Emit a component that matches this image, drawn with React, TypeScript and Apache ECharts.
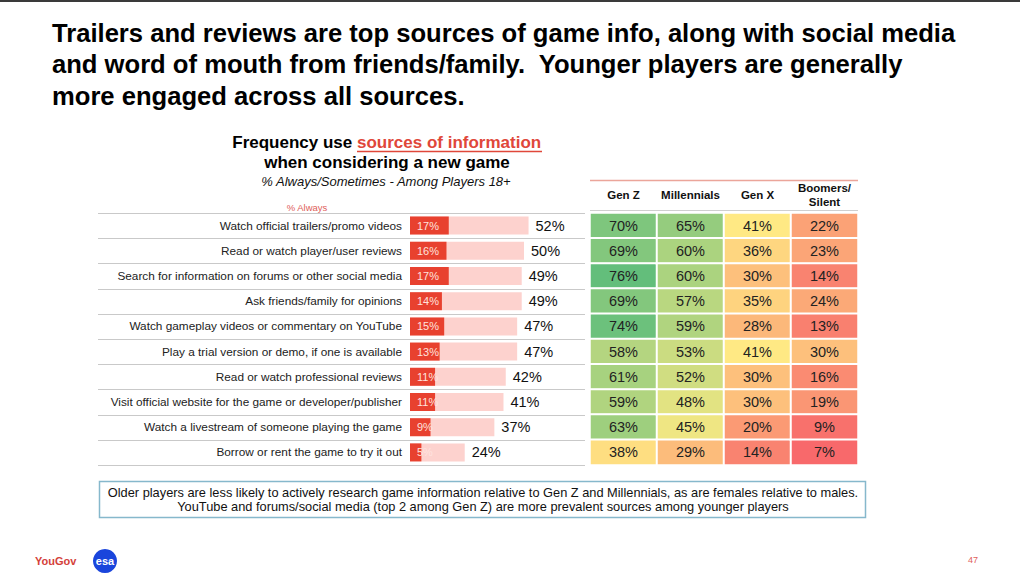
import React, { useEffect, useRef } from "react";
import * as echarts from "echarts";

const categories = [
  "Watch official trailers/promo videos",
  "Read or watch player/user reviews",
  "Search for information on forums or other social media",
  "Ask friends/family for opinions",
  "Watch gameplay videos or commentary on YouTube",
  "Play a trial version or demo, if one is available",
  "Read or watch professional reviews",
  "Visit official website for the game or developer/publisher",
  "Watch a livestream of someone playing the game",
  "Borrow or rent the game to try it out",
];
const totalPct = [52, 50, 49, 49, 47, 47, 42, 41, 37, 24];
const alwaysPct = [17, 16, 17, 14, 15, 13, 11, 11, 9, 5];
const generations = ["Gen Z", "Millennials", "Gen X", "Boomers/\nSilent"];
const genZ = [70, 69, 76, 69, 74, 58, 61, 59, 63, 38];
const millennials = [65, 60, 60, 57, 59, 53, 52, 48, 45, 29];
const genX = [41, 36, 30, 35, 28, 41, 30, 30, 20, 14];
const boomers = [22, 23, 14, 24, 13, 30, 16, 19, 9, 7];

const FONT = "'Liberation Sans', Arial, Helvetica, sans-serif";

export default function App() {
  const ref = useRef<HTMLDivElement>(null);
  useEffect(() => {
    if (!ref.current) return;
    const chart = echarts.init(ref.current, null, { renderer: "svg" });
    const gridTop = 213;
    const rowH = 25.2;
    const gridH = rowH * categories.length;
    const genCols = [genZ, millennials, genX, boomers];
    const heatData: number[][] = [];
    genCols.forEach((col, xi) => col.forEach((v, yi) => heatData.push([xi, yi, v])));

    const separators: any[] = [];
    for (let i = 0; i <= categories.length; i++) {
      const y = Math.round(gridTop + i * rowH) + 0.5;
      separators.push({
        type: "line",
        shape: { x1: 98, y1: y, x2: 585, y2: y },
        style: { stroke: "#c9c9c9", lineWidth: 1 },
        z: 1,
      });
    }

    const option: any = {
      animation: false,
      backgroundColor: "#ffffff",
      textStyle: { fontFamily: FONT },
      grid: [
        { left: 410, top: gridTop, width: 228, height: gridH },
        { left: 590, top: gridTop, width: 268, height: gridH },
      ],
      xAxis: [
        { type: "value", gridIndex: 0, min: 0, max: 100, show: false },
        {
          type: "category",
          gridIndex: 1,
          data: generations,
          position: "top",
          axisLine: { show: false },
          axisTick: { show: false },
          splitLine: { show: false },
          axisLabel: {
            fontFamily: FONT,
            fontSize: 11.5,
            fontWeight: "bold",
            color: "#111",
            lineHeight: 14,
            margin: 18,
            verticalAlign: "middle",
            interval: 0,
          },
        },
      ],
      yAxis: [
        {
          type: "category",
          gridIndex: 0,
          data: categories,
          inverse: true,
          axisLine: { show: false },
          axisTick: { show: false },
          axisLabel: { fontFamily: FONT, fontSize: 11.8, color: "#222", margin: 8 },
        },
        {
          type: "category",
          gridIndex: 1,
          data: categories,
          inverse: true,
          show: false,
        },
      ],
      visualMap: {
        show: false,
        seriesIndex: 2,
        min: 7,
        max: 76,
        dimension: 2,
        inRange: { color: ["#F8696B", "#FFEB84", "#63BE7B"] },
      },
      series: [
        {
          type: "bar",
          xAxisIndex: 0,
          yAxisIndex: 0,
          data: totalPct,
          barWidth: 18,
          barGap: "-100%",
          itemStyle: { color: "#fdd2ce" },
          label: {
            show: true,
            position: "right",
            distance: 7,
            formatter: "{c}%",
            fontFamily: FONT,
            fontSize: 14.5,
            color: "#111",
          },
          z: 2,
        },
        {
          type: "bar",
          xAxisIndex: 0,
          yAxisIndex: 0,
          data: alwaysPct,
          barWidth: 18,
          barGap: "-100%",
          itemStyle: { color: "#e8412f" },
          label: {
            show: true,
            position: "insideLeft",
            distance: 7,
            formatter: "{c}%",
            fontFamily: FONT,
            fontSize: 11,
            color: "#ffe2de",
          },
          z: 3,
        },
        {
          type: "heatmap",
          xAxisIndex: 1,
          yAxisIndex: 1,
          data: heatData,
          itemStyle: { borderColor: "#ffffff", borderWidth: 2 },
          label: {
            show: true,
            formatter: (p: any) => p.value[2] + "%",
            fontFamily: FONT,
            fontSize: 14.5,
            color: "#222",
          },
        },
      ],
      graphic: [
        { type: "rect", shape: { x: 0, y: 0, width: 1020, height: 2 }, style: { fill: "#3a3a3a" } },
        {
          type: "text",
          left: 52,
          top: 17,
          style: {
            text:
              "Trailers and reviews are top sources of game info, along with social media\nand word of mouth from friends/family.  Younger players are generally\nmore engaged across all sources.",
            font: "bold 25.6px " + FONT,
            fill: "#000",
            lineHeight: 31.5,
          },
        },
        {
          type: "text",
          x: 357,
          y: 142,
          style: {
            text: "Frequency use ",
            font: "bold 17px " + FONT,
            fill: "#000",
            align: "right",
            verticalAlign: "middle",
          },
        },
        {
          type: "text",
          x: 357,
          y: 142,
          style: {
            text: "sources of information",
            font: "bold 17px " + FONT,
            fill: "#e0473a",
            align: "left",
            verticalAlign: "middle",
          },
        },
        {
          type: "line",
          shape: { x1: 357, y1: 151.5, x2: 542, y2: 151.5 },
          style: { stroke: "#e0473a", lineWidth: 1.3 },
        },
        {
          type: "text",
          x: 387,
          y: 162,
          style: {
            text: "when considering a new game",
            font: "bold 17px " + FONT,
            fill: "#000",
            align: "center",
            verticalAlign: "middle",
          },
        },
        {
          type: "text",
          x: 386,
          y: 181,
          style: {
            text: "% Always/Sometimes - Among Players 18+",
            font: "italic 13px " + FONT,
            fill: "#111",
            align: "center",
            verticalAlign: "middle",
          },
        },
        {
          type: "text",
          x: 307,
          y: 207,
          style: {
            text: "% Always",
            font: "9.5px " + FONT,
            fill: "#e0605a",
            align: "center",
            verticalAlign: "middle",
          },
        },
        ...separators,
        {
          type: "line",
          shape: { x1: 590, y1: 180.5, x2: 858, y2: 180.5 },
          style: { stroke: "#eba59a", lineWidth: 1.5 },
        },
        {
          type: "line",
          shape: { x1: 590, y1: 210.5, x2: 858, y2: 210.5 },
          style: { stroke: "#cfcfcf", lineWidth: 1 },
        },
        {
          type: "rect",
          shape: { x: 99.5, y: 481.5, width: 766, height: 36 },
          style: { fill: "#fff", stroke: "#86b8cc", lineWidth: 1.5 },
        },
        {
          type: "text",
          x: 483,
          y: 499.5,
          style: {
            text:
              "Older players are less likely to actively research game information relative to Gen Z and Millennials, as are females relative to males.\nYouTube and forums/social media (top 2 among Gen Z) are more prevalent sources among younger players",
            font: "12.8px " + FONT,
            fill: "#111",
            align: "center",
            verticalAlign: "middle",
            lineHeight: 14.5,
          },
        },
        {
          type: "text",
          x: 35,
          y: 561,
          style: {
            text: "YouGov",
            font: "bold 11px " + FONT,
            fill: "#d4413a",
            align: "left",
            verticalAlign: "middle",
          },
        },
        {
          type: "circle",
          shape: { cx: 105, cy: 561, r: 12 },
          style: { fill: "#1a45dc" },
        },
        {
          type: "text",
          x: 105,
          y: 561,
          style: {
            text: "esa",
            font: "bold 11px " + FONT,
            fill: "#fff",
            align: "center",
            verticalAlign: "middle",
          },
        },
        {
          type: "text",
          x: 973,
          y: 560,
          style: {
            text: "47",
            font: "9px " + FONT,
            fill: "#e0605a",
            align: "center",
            verticalAlign: "middle",
          },
        },
      ],
    };
    chart.setOption(option);
    return () => chart.dispose();
  }, []);
  return (
    <div
      ref={ref}
      style={{ position: "fixed", left: 0, top: 0, width: 1020, height: 574 }}
    />
  );
}
